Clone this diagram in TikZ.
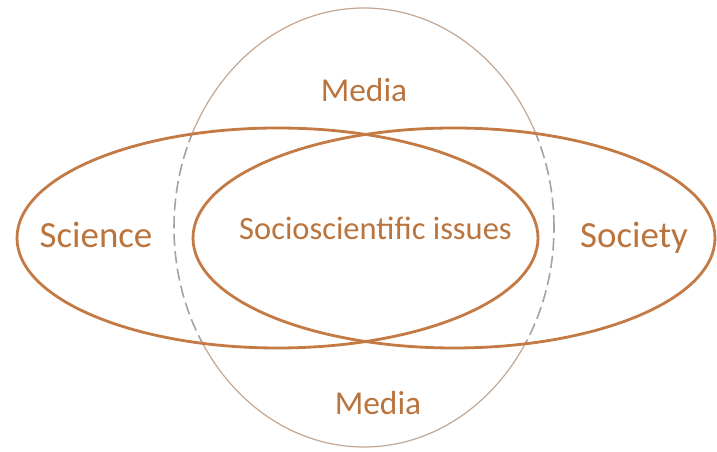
\documentclass[tikz,border=0pt]{standalone}
\usepackage{fontspec}
\setmainfont{Carlito}

\definecolor{ringorange}{RGB}{196,122,68}
\definecolor{labelorange}{RGB}{186,116,62}
\definecolor{mediasolid}{RGB}{196,168,148}
\definecolor{mediadash}{RGB}{168,162,156}

\tikzset{
  ring/.style={draw=ringorange,line width=1.6pt},
  mediaring/.style={draw=mediasolid,line width=0.7pt},
  mediadashed/.style={draw=mediadash,line width=0.9pt,dash pattern=on 7pt off 3pt},
  biglabel/.style={text=labelorange,anchor=base,font=\fontsize{21}{24}\selectfont},
  midlabel/.style={text=labelorange,anchor=base,font=\fontsize{19}{22}\selectfont},
  smalllabel/.style={text=labelorange,anchor=base,font=\fontsize{18.5}{22}\selectfont}
}

\begin{document}
\begin{tikzpicture}
\useasboundingbox (0,0) rectangle (14.34,9.04);

\coordinate (science) at (5.55,4.28);
\coordinate (society) at (9.08,4.28);
\coordinate (media) at (7.28,4.49);

% media: solid outside the two big ellipses
\draw[mediaring] (media) ellipse [x radius=3.8cm, y radius=4.39cm];
\fill[white] (science) ellipse [x radius=5.21cm, y radius=2.2cm];
\fill[white] (society) ellipse [x radius=5.22cm, y radius=2.2cm];

% media: dashed inside them
\begin{scope}
  \clip (science) ellipse [x radius=5.21cm, y radius=2.2cm];
  \draw[mediadashed] (media) ellipse [x radius=3.8cm, y radius=4.39cm];
\end{scope}
\begin{scope}
  \clip (society) ellipse [x radius=5.22cm, y radius=2.2cm];
  \draw[mediadashed] (media) ellipse [x radius=3.8cm, y radius=4.39cm];
\end{scope}

\draw[ring] (science) ellipse [x radius=5.21cm, y radius=2.2cm];
\draw[ring] (society) ellipse [x radius=5.22cm, y radius=2.2cm];

\node[biglabel] (sciencetext) at (1.92,4.08) {Science};
\node[biglabel] (societytext) at (12.68,4.08) {Society};
\node[smalllabel] (ssitext) at (7.51,4.24) {Socioscientific issues};
\node[midlabel] (mediatop) at (7.28,7.0) {Media};
\node[midlabel] (mediabottom) at (7.56,0.74) {Media};
\end{tikzpicture}
\end{document}
